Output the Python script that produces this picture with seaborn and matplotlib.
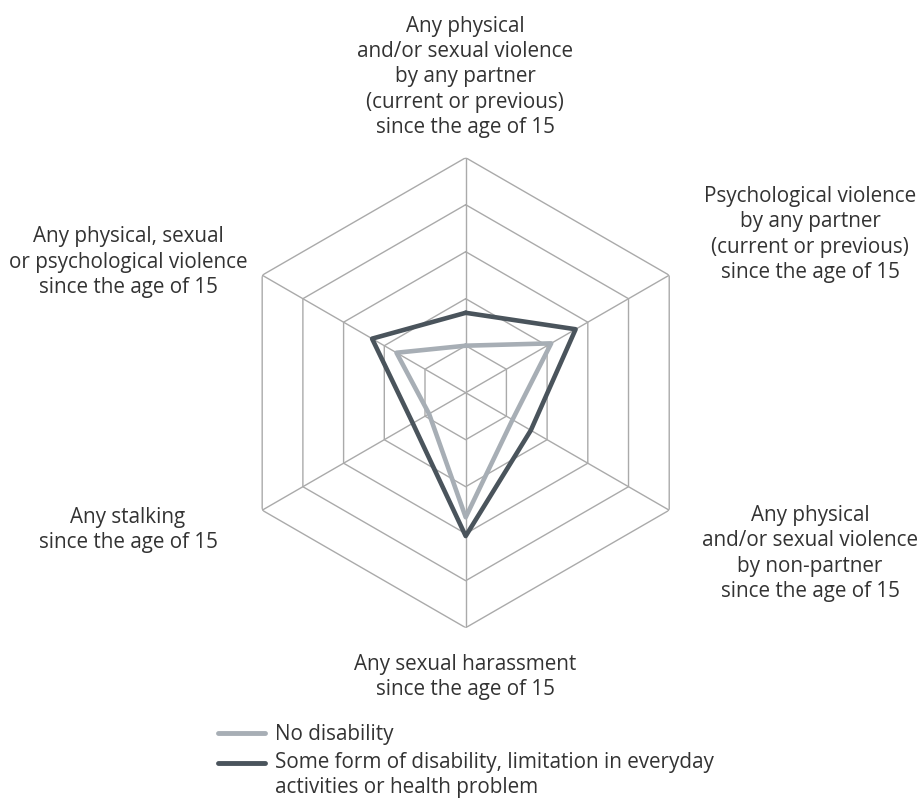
import numpy as np
import pandas as pd
import matplotlib.pyplot as plt
from matplotlib.lines import Line2D
import seaborn as sns

# Categories, clockwise from the top
categories = [
    "Any physical\nand/or sexual violence\nby any partner\n(current or previous)\nsince the age of 15",
    "Psychological violence\nby any partner\n(current or previous)\nsince the age of 15",
    "Any physical\nand/or sexual violence\nby non-partner\nsince the age of 15",
    "Any sexual harassment\nsince the age of 15",
    "Any stalking\nsince the age of 15",
    "Any physical, sexual\nor psychological violence\nsince the age of 15",
]
series_names = [
    "No disability",
    "Some form of disability, limitation in everyday\nactivities or health problem",
]
no_disability = [20, 42, 23, 53, 18, 34]
some_disability = [34, 54, 32, 61, 26, 46]
ring_values = [20, 40, 60, 80, 100]

colors = ["#a7aeb5", "#4a545c"]
grid_color = "#aaaaaa"
text_color = "#333333"

sns.set_theme(style="white")
plt.rcParams["font.family"] = ["Open Sans", "DejaVu Sans"]

n = len(categories)
angles = np.linspace(0, 2 * np.pi, n, endpoint=False)
closed = np.append(angles, angles[0] + 2 * np.pi)

rows = []
for name, vals in zip(series_names, [no_disability, some_disability]):
    for i, a in enumerate(closed):
        rows.append({"theta": a, "value": vals[i % n], "series": name, "order": i})
df = pd.DataFrame(rows)

W, H = 918, 801
fig = plt.figure(figsize=(W / 100, H / 100), dpi=100)
cx, cy, R = 465.7, 392.7, 235
ax = fig.add_axes([(cx - R) / W, (H - cy - R) / H, 2 * R / W, 2 * R / H], projection="polar")
ax.set_theta_zero_location("N")
ax.set_theta_direction(-1)
ax.set_ylim(0, 100)
ax.grid(False)
ax.spines["polar"].set_visible(False)
ax.set_xticks([])
ax.set_yticks([])
ax.patch.set_alpha(0)

# hexagonal grid
for r in ring_values:
    ax.plot(closed, [r] * len(closed), color=grid_color, lw=1.0, zorder=1)
for a in angles:
    ax.plot([a, a], [0, ring_values[-1]], color=grid_color, lw=1.0, zorder=1)

sns.lineplot(data=df, x="theta", y="value", hue="series", palette=colors,
             sort=False, estimator=None, units="series", lw=3.3, ax=ax,
             legend=False, zorder=3)
ax.set_xlabel("")
ax.set_ylabel("")
ax.set_ylim(0, 100)

# axis labels (pixel positions of the last baseline)
label_pos = [(465, 133), (810, 278), (810, 597), (465, 695), (128, 548), (128, 293)]
fs = 14.9
ls = 1.27
for text, (x, y) in zip(categories, label_pos):
    fig.text(x / W, 1 - y / H, text, ha="center", va="baseline", multialignment="center",
             fontsize=fs, color=text_color, linespacing=ls)

# legend
leg_line_y = [733, 763]
leg_text_y = [740, 793]
for name, c, y, ty in zip(series_names, colors, leg_line_y, leg_text_y):
    fig.add_artist(Line2D([218 / W, 265 / W], [1 - y / H, 1 - y / H], color=c, lw=3.5,
                          transform=fig.transFigure))
    fig.text(275 / W, 1 - ty / H, name, ha="left", va="baseline", fontsize=fs,
             color=text_color, linespacing=ls)

fig.savefig("out.png", dpi=100)
